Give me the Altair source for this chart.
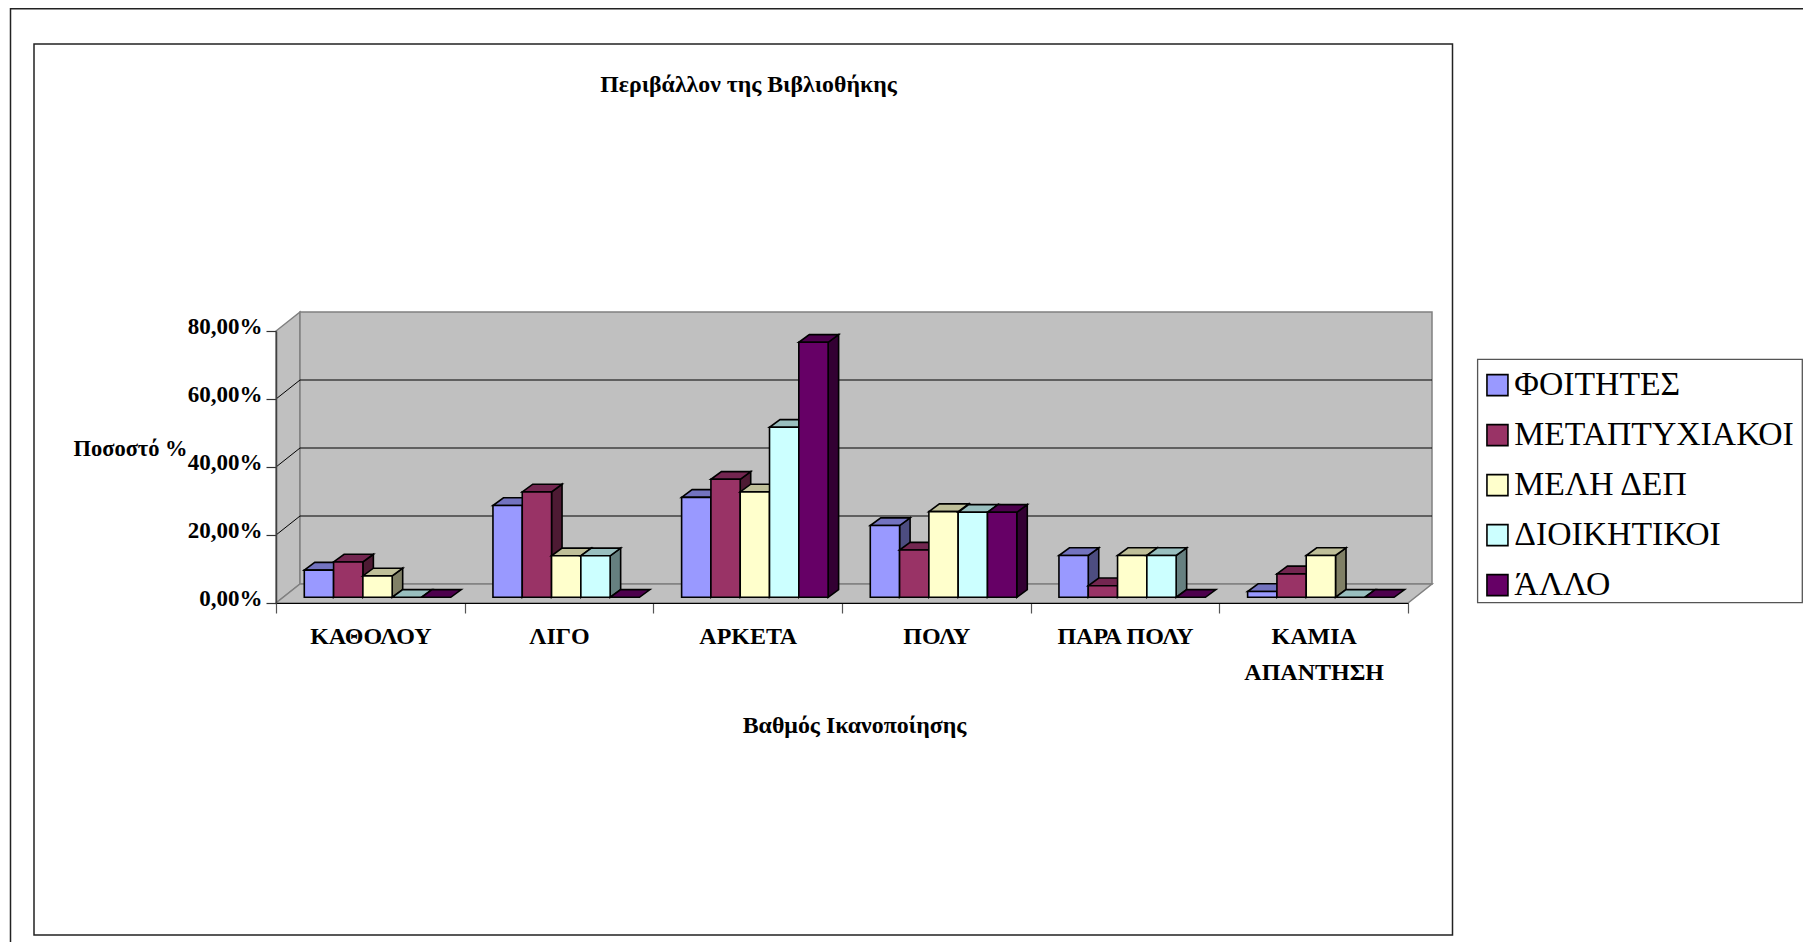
import altair as alt
import pandas as pd

CATEGORIES = ["ΚΑΘΟΛΟΥ", "ΛΙΓΟ", "ΑΡΚΕΤΑ", "ΠΟΛΥ", "ΠΑΡΑ ΠΟΛΥ", "ΚΑΜΙΑ ΑΠΑΝΤΗΣΗ"]
SERIES = ["ΦΟΙΤΗΤΕΣ", "ΜΕΤΑΠΤΥΧΙΑΚΟΙ", "ΜΕΛΗ ΔΕΠ", "ΔΙΟΙΚΗΤΙΚΟΙ", "ΆΛΛΟ"]
FOITITES = [8.0, 27.0, 29.4, 21.1, 12.3, 1.7]
METAPTYXIAKOI = [10.4, 31.0, 34.7, 13.9, 3.4, 6.9]
MELI_DEP = [6.3, 12.2, 31.0, 25.2, 12.3, 12.3]
DIOIKITIKOI = [0.0, 12.2, 50.0, 25.0, 12.3, 0.0]
ALLO = [0.0, 0.0, 75.0, 25.0, 0.0, 0.0]
VALUES = [FOITITES, METAPTYXIAKOI, MELI_DEP, DIOIKITIKOI, ALLO]
FRONT = ["#9999FF", "#993366", "#FFFFCC", "#CCFFFF", "#660066"]
TOP = ["#7373BF", "#732650", "#BFBF99", "#99BFBF", "#4D004D"]
SIDE = ["#4D4D80", "#4D1A33", "#808066", "#668080", "#330033"]
FONT = "Liberation Serif"

W, H = 1132, 272
PX_X = W / 6
PX_Y = H / 80
ux = lambda px: px / PX_X
uy = lambda px: px / PX_Y
wall_dx, wall_dy = ux(24), uy(19)
shift_dx, shift_dy = ux(7.2), uy(5.7)
bar_dx, bar_dy = ux(10.5), uy(7.7)
bar_w = ux(29.3)
gap = (1 - 5 * bar_w) / 2

rows = []
for ci in range(len(CATEGORIES)):
    for si, name in enumerate(SERIES):
        v = VALUES[si][ci]
        x0 = ci + gap + si * bar_w + shift_dx
        x1 = x0 + bar_w
        b = shift_dy
        t = b + v
        fid = f"{ci}-{si}"
        if v > 0:
            rows += [
                dict(face=fid + "s", key=name + "|side", x=x1, y=b, y2=t),
                dict(face=fid + "s", key=name + "|side", x=x1 + bar_dx, y=b + bar_dy, y2=t + bar_dy),
            ]
        rows += [
            dict(face=fid + "t", key=name + "|top", x=x0, y=t, y2=t),
            dict(face=fid + "t", key=name + "|top", x=x0 + bar_dx, y=t, y2=t + bar_dy),
            dict(face=fid + "t", key=name + "|top", x=x1, y=t, y2=t + bar_dy),
            dict(face=fid + "t", key=name + "|top", x=x1 + bar_dx, y=t + bar_dy, y2=t + bar_dy),
        ]
        if v > 0:
            rows += [
                dict(face=fid + "f", key=name, x=x0, y=b, y2=t),
                dict(face=fid + "f", key=name, x=x1, y=b, y2=t),
            ]
faces = pd.DataFrame(rows)

walls = pd.DataFrame([
    dict(face="left", x=0, y=0, y2=80),
    dict(face="left", x=wall_dx, y=wall_dy, y2=80 + wall_dy),
    dict(face="back", x=wall_dx, y=wall_dy, y2=80 + wall_dy),
    dict(face="back", x=6 + wall_dx, y=wall_dy, y2=80 + wall_dy),
    dict(face="floor", x=0, y=0, y2=0),
    dict(face="floor", x=wall_dx, y=0, y2=wall_dy),
    dict(face="floor", x=6, y=0, y2=wall_dy),
    dict(face="floor", x=6 + wall_dx, y=wall_dy, y2=wall_dy),
])

grid_rows = []
for lvl in [20, 40, 60]:
    grid_rows += [
        dict(level=lvl, order=0, x=0, y=lvl),
        dict(level=lvl, order=1, x=wall_dx, y=lvl + wall_dy),
        dict(level=lvl, order=2, x=6 + wall_dx, y=lvl + wall_dy),
    ]
grid = pd.DataFrame(grid_rows)

xs = alt.Scale(domain=[0, 6], nice=False, zero=False)
ys = alt.Scale(domain=[0, 80], nice=False, zero=False)

y_axis = alt.Axis(
    values=[0, 20, 40, 60, 80], grid=False, tickSize=10, tickWidth=1.2,
    tickColor="#333333", domainColor="#404040", domainWidth=1.5, zindex=1,
    labelExpr="replace(format(datum.value,'.2f'),'.',',')+'%'",
    labelFont=FONT, labelFontWeight="bold", labelFontSize=23, labelColor="#000000",
    labelPadding=4, labelOffset=-4.5,
    title="Ποσοστό %", titleFont=FONT, titleFontWeight="bold", titleFontSize=22.5,
    titleColor="#000000", titleAngle=0, titleX=-146, titleY=117,
    titleAlign="center", titleBaseline="middle",
)

wall_layer = alt.Chart(walls).mark_area(
    orient="vertical", fill="#C0C0C0", stroke="#808080", strokeWidth=1.5
).encode(
    x=alt.X("x:Q", scale=xs, axis=None),
    y=alt.Y("y:Q", scale=ys, axis=y_axis),
    y2="y2:Q",
    detail="face:N",
)

grid_layer = alt.Chart(grid).mark_line(color="#000000", strokeWidth=1).encode(
    x=alt.X("x:Q", scale=xs, axis=None),
    y=alt.Y("y:Q", scale=ys, axis=y_axis),
    detail="level:N",
    order="order:Q",
)

keys, colors = [], []
for i, name in enumerate(SERIES):
    keys += [name, name + "|top", name + "|side"]
    colors += [FRONT[i], TOP[i], SIDE[i]]

face_layer = alt.Chart(faces).mark_area(
    orient="vertical", stroke="#000000", strokeWidth=1.6, opacity=1
).encode(
    x=alt.X("x:Q", scale=xs, axis=None),
    y=alt.Y("y:Q", scale=ys, axis=y_axis),
    y2="y2:Q",
    detail="face:N",
    fill=alt.Fill(
        "key:N",
        scale=alt.Scale(domain=keys, range=colors),
        legend=alt.Legend(
            values=SERIES, title=None, orient="none", legendX=1195.6, legendY=28.3,
            symbolType="square", symbolSize=441, symbolStrokeColor="#000000",
            symbolStrokeWidth=1.6, symbolOpacity=1,
            labelFont=FONT, labelFontSize=33.7, labelColor="#000000", labelOffset=0,
            labelLimit=400, rowPadding=15, padding=9,
        ),
    ),
)

cat_df = pd.DataFrame({"category": CATEGORIES})
axis_layer = alt.Chart(cat_df).mark_rect(opacity=0).encode(
    x=alt.X(
        "category:N", sort=CATEGORIES,
        scale=alt.Scale(paddingInner=0, paddingOuter=0),
        axis=alt.Axis(
            tickBand="extent", labelAngle=0, tickSize=10, tickWidth=1.2, tickColor="#555555",
            domainColor="#000000", domainWidth=1.2, zindex=1, grid=False,
            labelExpr="datum.value == 'ΚΑΜΙΑ ΑΠΑΝΤΗΣΗ' ? split(datum.value,' ') : datum.value",
            labelFont=FONT, labelFontWeight="bold", labelFontSize=24, labelColor="#000000",
            labelLineHeight=36, labelPadding=11, labelLimit=400,
            title="Βαθμός Ικανοποίησης", titleFont=FONT, titleFontWeight="bold",
            titleFontSize=23.9, titleColor="#000000", titleX=578, titleY=122,
            titleAlign="center", titleBaseline="middle",
        ),
    ),
)

one = pd.DataFrame({"a": [0]})
OX, OY = 276, 331
SVG_W, SVG_H = 1795, 934
frame = alt.Chart(one).mark_rect(fillOpacity=0, stroke="#222222", strokeWidth=1.5).encode(
    x=alt.value(34 - OX), x2=alt.value(1452.5 - OX),
    y=alt.value(44 - OY), y2=alt.value(935 - OY),
)
legend_box = alt.Chart(one).mark_rect(fillOpacity=0, stroke="#555555", strokeWidth=1.3).encode(
    x=alt.value(1477.6 - OX), x2=alt.value(1802.3 - OX),
    y=alt.value(359.3 - OY), y2=alt.value(602.7 - OY),
)
outer_top = alt.Chart(one).mark_rule(color="#222222", strokeWidth=1.5).encode(
    x=alt.value(10.5 - OX), x2=alt.value(1811 - OX), y=alt.value(8.8 - OY),
)
outer_left = alt.Chart(one).mark_rule(color="#222222", strokeWidth=1.5).encode(
    x=alt.value(10.5 - OX), y=alt.value(8 - OY), y2=alt.value(951 - OY),
)
title_mark = alt.Chart(pd.DataFrame({"t": ["Περιβάλλον της Βιβλιοθήκης"]})).mark_text(
    font=FONT, fontWeight="bold", fontSize=23.8, color="#000000", align="center", baseline="middle"
).encode(x=alt.value(748.5 - OX), y=alt.value(84.5 - OY), text="t:N")

chart = alt.layer(
    frame, legend_box, outer_top, outer_left, title_mark, wall_layer, grid_layer, face_layer, axis_layer
).resolve_scale(x="independent").properties(
    width=W, height=H,
    autosize=alt.AutoSizeParams(type="none"),
    padding={"left": 268, "top": 323, "right": SVG_W - 268 - W, "bottom": SVG_H - 323 - H},
).configure_view(stroke=None)

chart.save("out.html", embed_options={"renderer": "svg", "actions": False})
